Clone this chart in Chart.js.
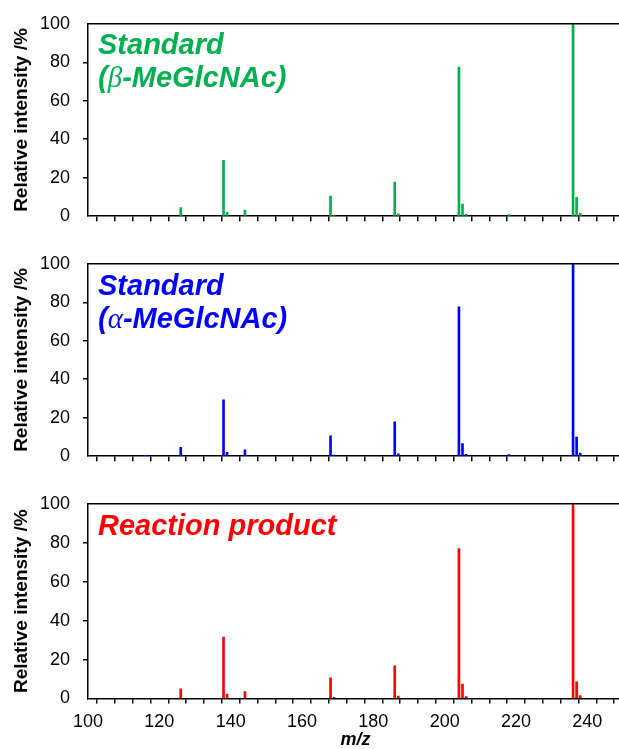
<!DOCTYPE html>
<html>
<head>
<meta charset="utf-8">
<script src="https://cdn.jsdelivr.net/npm/chart.js@4.4.1/dist/chart.umd.min.js"></script>
<style>
  html, body { margin: 0; padding: 0; background: #fff; overflow: hidden; }
  body { width: 619px; height: 749px; position: relative; }
  canvas { position: absolute; left: 0; }
  .label {
    position: absolute; left: 98px;
    font-family: "Liberation Sans", Arial, sans-serif;
    font-weight: bold; font-style: italic; font-size: 29px; line-height: 33px;
    white-space: nowrap;
  }
  .greek { font-family: "Liberation Serif", "Times New Roman", serif; font-weight: normal; font-style: italic; }
</style>
</head>
<body>
<!-- canvases are a bit wider than the window: the axis runs on to 250 just past the right edge -->
<canvas id="beta" width="631" height="240" style="top:0px"></canvas>
<canvas id="alpha" width="631" height="240" style="top:240px"></canvas>
<canvas id="product" width="631" height="280" style="top:480px"></canvas>

<div class="label" style="top:28px;color:#00B050">Standard<br>(<span class="greek">β</span>-MeGlcNAc)</div>
<div class="label" style="top:269px;color:#0000FF">Standard<br>(<span class="greek">α</span>-MeGlcNAc)</div>
<div class="label" style="top:509px;color:#FF0000">Reaction product</div>

<script>
// m/z peaks and relative intensities (%)
const mzBeta = [126, 138, 139, 144, 168, 169, 186, 187, 204, 205, 206, 218, 236, 237, 238];
const intBeta = [4.5, 29, 2, 3.2, 10.5, 0.6, 17.7, 1.2, 77.5, 6.3, 1, 0.8, 100, 9.8, 1.6];

const mzAlpha = [116, 126, 138, 139, 144, 168, 169, 186, 187, 204, 205, 206, 218, 236, 237, 238];
const intAlpha = [0.3, 4.6, 29.3, 2, 3.3, 10.6, 0.6, 17.8, 1.2, 77.6, 6.5, 1, 0.8, 100, 10, 1.6];

const mzProduct = [126, 138, 139, 144, 168, 169, 186, 187, 204, 205, 206, 236, 237, 238];
const intProduct = [5, 31.5, 2.3, 3.6, 10.6, 0.6, 16.8, 1.2, 77, 7.4, 1, 100, 8.6, 1.5];

const xMin = 100, xMax = 250, xStep = 5, xLabelEvery = 20;
const yTicks = [0, 20, 40, 60, 80, 100];

const font = "'Liberation Sans', Arial, sans-serif";

// top and right edge of the plot box
const framePlugin = {
  id: 'frame',
  afterDraw(chart) {
    const { ctx, chartArea: a } = chart;
    ctx.save();
    ctx.strokeStyle = '#000';
    ctx.lineWidth = 1.5;
    ctx.beginPath();
    ctx.moveTo(a.left, a.top);
    ctx.lineTo(a.right, a.top);
    ctx.lineTo(a.right, a.bottom);
    ctx.stroke();
    ctx.restore();
  }
};

function makeChart(id, mz, values, color, padTop, showX) {
  const canvas = document.getElementById(id);
  const plotBottom = padTop + 195;
  return new Chart(canvas, {
    type: 'bar',
    data: {
      datasets: [{
        data: mz.map((m, i) => ({ x: m, y: values[i] })),
        backgroundColor: color,
        borderWidth: 0,
        barThickness: 2,
        grouped: false
      }]
    },
    options: {
      responsive: false,
      animation: false,
      layout: { padding: { top: padTop, left: 0, right: 0, bottom: 0 } },
      plugins: { legend: { display: false }, tooltip: { enabled: false } },
      scales: {
        x: {
          type: 'linear',
          min: xMin, max: xMax,
          offset: false,
          afterFit: s => { s.height = canvas.height - plotBottom; },
          border: { display: true, color: '#000', width: 1.5 },
          grid: { drawOnChartArea: false, drawTicks: true, tickLength: 5, color: '#000', lineWidth: 1.5 },
          ticks: {
            stepSize: xStep,
            autoSkip: false,
            maxRotation: 0,
            padding: 8,
            color: '#000',
            font: { family: font, size: 18 },
            callback: v => (showX && v % xLabelEvery === 0) ? v : ''
          },
          title: {
            display: showX,
            text: 'm/z',
            color: '#000',
            font: { family: font, size: 18, weight: 'bold', style: 'italic' },
            padding: { top: 0, bottom: 9 }
          }
        },
        y: {
          min: 0, max: 100,
          afterFit: s => { s.width = 88; },
          afterBuildTicks: s => { s.ticks = yTicks.map(v => ({ value: v })); },
          border: { display: true, color: '#000', width: 1.5 },
          grid: {
            drawOnChartArea: false, drawTicks: true, tickLength: 5, lineWidth: 1.5,
            color: c => (c.tick && (c.tick.value === 0 || c.tick.value === 100)) ? 'rgba(0,0,0,0)' : '#000'
          },
          ticks: {
            padding: 13,
            color: '#000',
            font: { family: font, size: 18 }
          },
          title: {
            display: true,
            text: 'Relative intensity /%',
            color: '#000',
            font: { family: font, size: 19, weight: 'bold' },
            padding: { top: 10, bottom: 0 }
          }
        }
      }
    },
    plugins: [framePlugin]
  });
}

makeChart('beta', mzBeta, intBeta, '#00B050', 23, false);
makeChart('alpha', mzAlpha, intAlpha, '#0000FF', 22, false);
makeChart('product', mzProduct, intProduct, '#FF0000', 23.5, true);
</script>
</body>
</html>
